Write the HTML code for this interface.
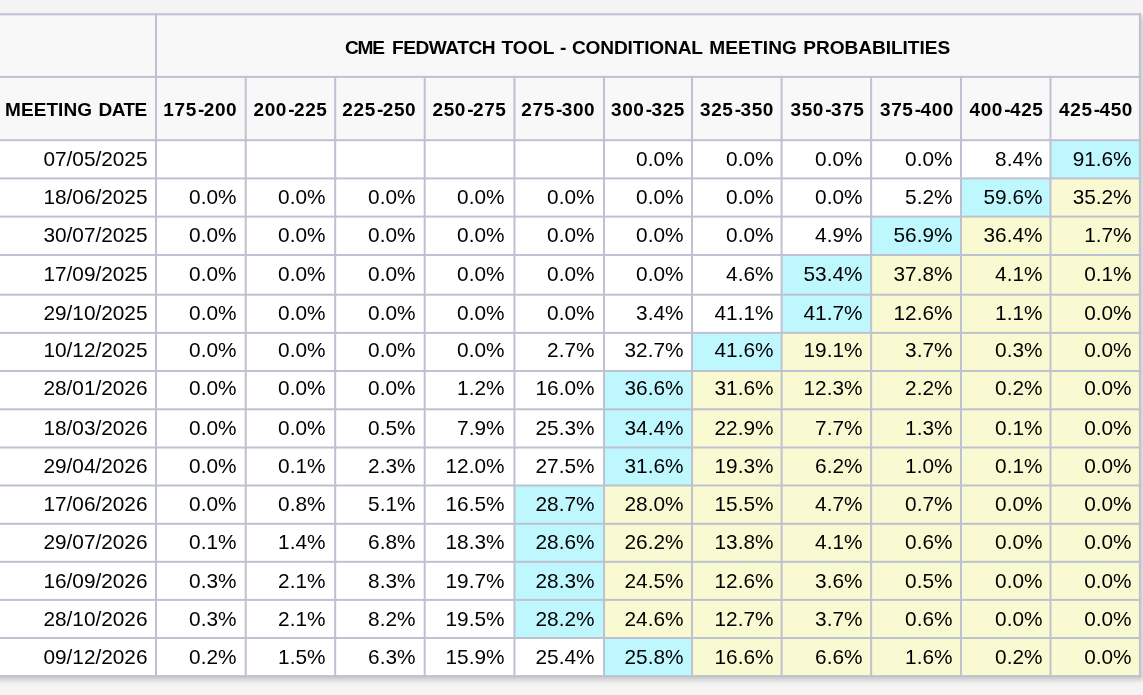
<!DOCTYPE html>
<html lang="en"><head><meta charset="utf-8"><title>CME FedWatch Tool - Conditional Meeting Probabilities</title>
<style>
html,body{margin:0;padding:0;}
body{width:1143px;height:695px;overflow:hidden;background:#f4f4f4;font-family:"Liberation Sans",Arial,sans-serif;position:relative;}
table{position:absolute;left:-41px;top:13px;border-collapse:collapse;table-layout:fixed;width:1180px;background:transparent;z-index:1;}
svg.grid{position:absolute;left:0;top:0;z-index:0;}
.shadow{position:absolute;left:-41px;top:13px;width:1182px;height:664px;box-shadow:2px 3px 5px rgba(0,0,0,0.19);}
td,th{border:2px solid transparent;padding:0 7px 0 0;box-sizing:border-box;text-align:right;font-size:20.8px;font-weight:normal;color:#000;white-space:nowrap;overflow:hidden;line-height:1;}
td span, th span{position:relative;display:inline-block;}
td span{top:0px;}
th{font-weight:bold;font-size:19.0px;letter-spacing:0.6px;text-align:center;padding:0;}
th span{top:0.75px;transform:scaleY(0.95);}
th i{font-style:normal;position:relative;left:1.2px;}
th.t{font-size:19.1px;letter-spacing:0px;}
th span.w{position:absolute;display:block;}
th.t span.w{transform:scaleY(0.945);}
th.m{text-align:right;padding-right:7px;letter-spacing:0.13px;font-size:19.0px;}
th.m span.w{transform:scaleY(0.95);}
td.p0{padding-right:7.5px;}
td.p1{padding-right:8.5px;}
td.p2{padding-right:8.5px;}
td.p3{padding-right:8.5px;}
td.p4{padding-right:8.5px;}
td.p5{padding-right:8.5px;}
td.p6{padding-right:7.5px;}
td.p7{padding-right:7.5px;}
td.p8{padding-right:7.5px;}
td.p9{padding-right:7.5px;}
td.p10{padding-right:6.5px;}
td.p11{padding-right:7.5px;}
tr.r2 span{top:-1px;}
tr.r3 span{top:-1px;}
tr.r4 span{top:-1px;}
tr.r5 span{top:-2px;}
tr.r6 span{top:-2px;}
tr.r10 span{top:-1px;}
th.h0 span{left:-0.7px;}
th.h2 span{left:-0.7px;}
th.h4 span{left:-0.7px;}
th.h7 span{left:1px;}
th.h8 span{left:1px;}
th.h9 span{left:1px;}
th.h10 span{left:1px;}


</style></head><body>
<div class="shadow"></div>
<svg class="grid" width="1143" height="695" viewBox="0 0 1143 695">
<rect x="-10.00" y="14.30" width="1149.90" height="125.90" fill="#f8f8f8"/>
<rect x="-10.00" y="140.20" width="1149.90" height="535.90" fill="#ffffff"/>
<rect x="1050.50" y="140.20" width="89.40" height="38.20" fill="#bff7ff"/>
<rect x="961.00" y="178.40" width="89.50" height="38.20" fill="#bff7ff"/>
<rect x="1050.50" y="178.40" width="89.40" height="38.20" fill="#fafad2"/>
<rect x="871.15" y="216.60" width="89.85" height="38.40" fill="#bff7ff"/>
<rect x="961.00" y="216.60" width="178.90" height="38.40" fill="#fafad2"/>
<rect x="781.60" y="255.00" width="89.55" height="39.70" fill="#bff7ff"/>
<rect x="871.15" y="255.00" width="268.75" height="39.70" fill="#fafad2"/>
<rect x="781.60" y="294.70" width="89.55" height="38.20" fill="#bff7ff"/>
<rect x="871.15" y="294.70" width="268.75" height="38.20" fill="#fafad2"/>
<rect x="692.05" y="332.90" width="89.55" height="38.10" fill="#bff7ff"/>
<rect x="781.60" y="332.90" width="358.30" height="38.10" fill="#fafad2"/>
<rect x="604.05" y="371.00" width="88.00" height="38.30" fill="#bff7ff"/>
<rect x="692.05" y="371.00" width="447.85" height="38.30" fill="#fafad2"/>
<rect x="604.05" y="409.30" width="88.00" height="38.20" fill="#bff7ff"/>
<rect x="692.05" y="409.30" width="447.85" height="38.20" fill="#fafad2"/>
<rect x="604.05" y="447.50" width="88.00" height="38.00" fill="#bff7ff"/>
<rect x="692.05" y="447.50" width="447.85" height="38.00" fill="#fafad2"/>
<rect x="514.45" y="485.50" width="89.60" height="38.30" fill="#bff7ff"/>
<rect x="604.05" y="485.50" width="535.85" height="38.30" fill="#fafad2"/>
<rect x="514.45" y="523.80" width="89.60" height="38.00" fill="#bff7ff"/>
<rect x="604.05" y="523.80" width="535.85" height="38.00" fill="#fafad2"/>
<rect x="514.45" y="561.80" width="89.60" height="38.10" fill="#bff7ff"/>
<rect x="604.05" y="561.80" width="535.85" height="38.10" fill="#fafad2"/>
<rect x="514.45" y="599.90" width="89.60" height="38.10" fill="#bff7ff"/>
<rect x="604.05" y="599.90" width="535.85" height="38.10" fill="#fafad2"/>
<rect x="604.05" y="638.00" width="88.00" height="38.10" fill="#bff7ff"/>
<rect x="692.05" y="638.00" width="447.85" height="38.10" fill="#fafad2"/>
<rect x="-10.00" y="13.30" width="1150.90" height="2.00" fill="#bec1cf"/>
<rect x="-10.00" y="75.90" width="1150.90" height="2.00" fill="#bec1cf"/>
<rect x="-10.00" y="139.20" width="1150.90" height="2.00" fill="#bec1cf"/>
<rect x="-10.00" y="177.40" width="1150.90" height="2.00" fill="#bec1cf"/>
<rect x="-10.00" y="215.60" width="1150.90" height="2.00" fill="#bec1cf"/>
<rect x="-10.00" y="254.00" width="1150.90" height="2.00" fill="#bec1cf"/>
<rect x="-10.00" y="293.70" width="1150.90" height="2.00" fill="#bec1cf"/>
<rect x="-10.00" y="331.90" width="1150.90" height="2.00" fill="#bec1cf"/>
<rect x="-10.00" y="370.00" width="1150.90" height="2.00" fill="#bec1cf"/>
<rect x="-10.00" y="408.30" width="1150.90" height="2.00" fill="#bec1cf"/>
<rect x="-10.00" y="446.50" width="1150.90" height="2.00" fill="#bec1cf"/>
<rect x="-10.00" y="484.50" width="1150.90" height="2.00" fill="#bec1cf"/>
<rect x="-10.00" y="522.80" width="1150.90" height="2.00" fill="#bec1cf"/>
<rect x="-10.00" y="560.80" width="1150.90" height="2.00" fill="#bec1cf"/>
<rect x="-10.00" y="598.90" width="1150.90" height="2.00" fill="#bec1cf"/>
<rect x="-10.00" y="637.00" width="1150.90" height="2.00" fill="#bec1cf"/>
<rect x="-10.00" y="675.10" width="1150.90" height="2.00" fill="#bec1cf"/>
<rect x="155.00" y="13.30" width="2.00" height="663.80" fill="#bec1cf"/>
<rect x="244.70" y="75.90" width="2.00" height="601.20" fill="#bec1cf"/>
<rect x="334.20" y="75.90" width="2.00" height="601.20" fill="#bec1cf"/>
<rect x="423.70" y="75.90" width="2.00" height="601.20" fill="#bec1cf"/>
<rect x="513.45" y="75.90" width="2.00" height="601.20" fill="#bec1cf"/>
<rect x="603.05" y="75.90" width="2.00" height="601.20" fill="#bec1cf"/>
<rect x="691.05" y="75.90" width="2.00" height="601.20" fill="#bec1cf"/>
<rect x="780.60" y="75.90" width="2.00" height="601.20" fill="#bec1cf"/>
<rect x="870.15" y="75.90" width="2.00" height="601.20" fill="#bec1cf"/>
<rect x="960.00" y="75.90" width="2.00" height="601.20" fill="#bec1cf"/>
<rect x="1049.50" y="75.90" width="2.00" height="601.20" fill="#bec1cf"/>
<rect x="1138.90" y="13.30" width="2.00" height="663.80" fill="#bec1cf"/>
</svg>
<table>
<colgroup>
<col style="width:196px">
<col style="width:90px">
<col style="width:89px">
<col style="width:90px">
<col style="width:89px">
<col style="width:90px">
<col style="width:88px">
<col style="width:90px">
<col style="width:89px">
<col style="width:90px">
<col style="width:89px">
<col style="width:90px">
</colgroup>
<thead><tr style="height:63px"><th></th><th class="t" colspan="11"><span class="w" style="left:384.89px;top:23.84px;letter-spacing:-1.194px">CME</span> <span class="w" style="left:432.10px;top:23.84px;letter-spacing:-0.47px">FEDWATCH</span> <span class="w" style="left:541.40px;top:23.84px;letter-spacing:0.074px">TOOL</span> <span class="w" style="left:600.05px;top:23.84px;letter-spacing:0.0px">-</span> <span class="w" style="left:611.99px;top:23.84px;letter-spacing:-0.162px">CONDITIONAL</span> <span class="w" style="left:749.20px;top:23.84px;letter-spacing:0.133px">MEETING</span> <span class="w" style="left:843.30px;top:23.84px;letter-spacing:-0.05px">PROBABILITIES</span></th></tr>
<tr style="height:63px"><th class="m"><span class="w" style="left:45.10px;top:85.75px;letter-spacing:0.06px">MEETING</span> <span class="w" style="left:138.60px;top:85.75px;letter-spacing:-0.6px">DATE</span></th><th class="h0"><span>175<i>-</i>200</span></th><th class="h1"><span>200<i>-</i>225</span></th><th class="h2"><span>225<i>-</i>250</span></th><th class="h3"><span>250<i>-</i>275</span></th><th class="h4"><span>275<i>-</i>300</span></th><th class="h5"><span>300<i>-</i>325</span></th><th class="h6"><span>325<i>-</i>350</span></th><th class="h7"><span>350<i>-</i>375</span></th><th class="h8"><span>375<i>-</i>400</span></th><th class="h9"><span>400<i>-</i>425</span></th><th class="h10"><span>425<i>-</i>450</span></th></tr></thead><tbody>
<tr class="r0" style="height:38px"><td class="p0"><span>07/05/2025</span></td><td class="p1"><span></span></td><td class="p2"><span></span></td><td class="p3"><span></span></td><td class="p4"><span></span></td><td class="p5"><span></span></td><td class="p6"><span>0.0%</span></td><td class="p7"><span>0.0%</span></td><td class="p8"><span>0.0%</span></td><td class="p9"><span>0.0%</span></td><td class="p10"><span>8.4%</span></td><td class="p11 c"><span>91.6%</span></td></tr>
<tr class="r1" style="height:39px"><td class="p0"><span>18/06/2025</span></td><td class="p1"><span>0.0%</span></td><td class="p2"><span>0.0%</span></td><td class="p3"><span>0.0%</span></td><td class="p4"><span>0.0%</span></td><td class="p5"><span>0.0%</span></td><td class="p6"><span>0.0%</span></td><td class="p7"><span>0.0%</span></td><td class="p8"><span>0.0%</span></td><td class="p9"><span>5.2%</span></td><td class="p10 c"><span>59.6%</span></td><td class="p11 y"><span>35.2%</span></td></tr>
<tr class="r2" style="height:38px"><td class="p0"><span>30/07/2025</span></td><td class="p1"><span>0.0%</span></td><td class="p2"><span>0.0%</span></td><td class="p3"><span>0.0%</span></td><td class="p4"><span>0.0%</span></td><td class="p5"><span>0.0%</span></td><td class="p6"><span>0.0%</span></td><td class="p7"><span>0.0%</span></td><td class="p8"><span>4.9%</span></td><td class="p9 c"><span>56.9%</span></td><td class="p10 y"><span>36.4%</span></td><td class="p11 y"><span>1.7%</span></td></tr>
<tr class="r3" style="height:40px"><td class="p0"><span>17/09/2025</span></td><td class="p1"><span>0.0%</span></td><td class="p2"><span>0.0%</span></td><td class="p3"><span>0.0%</span></td><td class="p4"><span>0.0%</span></td><td class="p5"><span>0.0%</span></td><td class="p6"><span>0.0%</span></td><td class="p7"><span>4.6%</span></td><td class="p8 c"><span>53.4%</span></td><td class="p9 y"><span>37.8%</span></td><td class="p10 y"><span>4.1%</span></td><td class="p11 y"><span>0.1%</span></td></tr>
<tr class="r4" style="height:38px"><td class="p0"><span>29/10/2025</span></td><td class="p1"><span>0.0%</span></td><td class="p2"><span>0.0%</span></td><td class="p3"><span>0.0%</span></td><td class="p4"><span>0.0%</span></td><td class="p5"><span>0.0%</span></td><td class="p6"><span>3.4%</span></td><td class="p7"><span>41.1%</span></td><td class="p8 c"><span>41.7%</span></td><td class="p9 y"><span>12.6%</span></td><td class="p10 y"><span>1.1%</span></td><td class="p11 y"><span>0.0%</span></td></tr>
<tr class="r5" style="height:38px"><td class="p0"><span>10/12/2025</span></td><td class="p1"><span>0.0%</span></td><td class="p2"><span>0.0%</span></td><td class="p3"><span>0.0%</span></td><td class="p4"><span>0.0%</span></td><td class="p5"><span>2.7%</span></td><td class="p6"><span>32.7%</span></td><td class="p7 c"><span>41.6%</span></td><td class="p8 y"><span>19.1%</span></td><td class="p9 y"><span>3.7%</span></td><td class="p10 y"><span>0.3%</span></td><td class="p11 y"><span>0.0%</span></td></tr>
<tr class="r6" style="height:38px"><td class="p0"><span>28/01/2026</span></td><td class="p1"><span>0.0%</span></td><td class="p2"><span>0.0%</span></td><td class="p3"><span>0.0%</span></td><td class="p4"><span>1.2%</span></td><td class="p5"><span>16.0%</span></td><td class="p6 c"><span>36.6%</span></td><td class="p7 y"><span>31.6%</span></td><td class="p8 y"><span>12.3%</span></td><td class="p9 y"><span>2.2%</span></td><td class="p10 y"><span>0.2%</span></td><td class="p11 y"><span>0.0%</span></td></tr>
<tr class="r7" style="height:38px"><td class="p0"><span>18/03/2026</span></td><td class="p1"><span>0.0%</span></td><td class="p2"><span>0.0%</span></td><td class="p3"><span>0.5%</span></td><td class="p4"><span>7.9%</span></td><td class="p5"><span>25.3%</span></td><td class="p6 c"><span>34.4%</span></td><td class="p7 y"><span>22.9%</span></td><td class="p8 y"><span>7.7%</span></td><td class="p9 y"><span>1.3%</span></td><td class="p10 y"><span>0.1%</span></td><td class="p11 y"><span>0.0%</span></td></tr>
<tr class="r8" style="height:38px"><td class="p0"><span>29/04/2026</span></td><td class="p1"><span>0.0%</span></td><td class="p2"><span>0.1%</span></td><td class="p3"><span>2.3%</span></td><td class="p4"><span>12.0%</span></td><td class="p5"><span>27.5%</span></td><td class="p6 c"><span>31.6%</span></td><td class="p7 y"><span>19.3%</span></td><td class="p8 y"><span>6.2%</span></td><td class="p9 y"><span>1.0%</span></td><td class="p10 y"><span>0.1%</span></td><td class="p11 y"><span>0.0%</span></td></tr>
<tr class="r9" style="height:39px"><td class="p0"><span>17/06/2026</span></td><td class="p1"><span>0.0%</span></td><td class="p2"><span>0.8%</span></td><td class="p3"><span>5.1%</span></td><td class="p4"><span>16.5%</span></td><td class="p5 c"><span>28.7%</span></td><td class="p6 y"><span>28.0%</span></td><td class="p7 y"><span>15.5%</span></td><td class="p8 y"><span>4.7%</span></td><td class="p9 y"><span>0.7%</span></td><td class="p10 y"><span>0.0%</span></td><td class="p11 y"><span>0.0%</span></td></tr>
<tr class="r10" style="height:38px"><td class="p0"><span>29/07/2026</span></td><td class="p1"><span>0.1%</span></td><td class="p2"><span>1.4%</span></td><td class="p3"><span>6.8%</span></td><td class="p4"><span>18.3%</span></td><td class="p5 c"><span>28.6%</span></td><td class="p6 y"><span>26.2%</span></td><td class="p7 y"><span>13.8%</span></td><td class="p8 y"><span>4.1%</span></td><td class="p9 y"><span>0.6%</span></td><td class="p10 y"><span>0.0%</span></td><td class="p11 y"><span>0.0%</span></td></tr>
<tr class="r11" style="height:38px"><td class="p0"><span>16/09/2026</span></td><td class="p1"><span>0.3%</span></td><td class="p2"><span>2.1%</span></td><td class="p3"><span>8.3%</span></td><td class="p4"><span>19.7%</span></td><td class="p5 c"><span>28.3%</span></td><td class="p6 y"><span>24.5%</span></td><td class="p7 y"><span>12.6%</span></td><td class="p8 y"><span>3.6%</span></td><td class="p9 y"><span>0.5%</span></td><td class="p10 y"><span>0.0%</span></td><td class="p11 y"><span>0.0%</span></td></tr>
<tr class="r12" style="height:38px"><td class="p0"><span>28/10/2026</span></td><td class="p1"><span>0.3%</span></td><td class="p2"><span>2.1%</span></td><td class="p3"><span>8.2%</span></td><td class="p4"><span>19.5%</span></td><td class="p5 c"><span>28.2%</span></td><td class="p6 y"><span>24.6%</span></td><td class="p7 y"><span>12.7%</span></td><td class="p8 y"><span>3.7%</span></td><td class="p9 y"><span>0.6%</span></td><td class="p10 y"><span>0.0%</span></td><td class="p11 y"><span>0.0%</span></td></tr>
<tr class="r13" style="height:38px"><td class="p0"><span>09/12/2026</span></td><td class="p1"><span>0.2%</span></td><td class="p2"><span>1.5%</span></td><td class="p3"><span>6.3%</span></td><td class="p4"><span>15.9%</span></td><td class="p5"><span>25.4%</span></td><td class="p6 c"><span>25.8%</span></td><td class="p7 y"><span>16.6%</span></td><td class="p8 y"><span>6.6%</span></td><td class="p9 y"><span>1.6%</span></td><td class="p10 y"><span>0.2%</span></td><td class="p11 y"><span>0.0%</span></td></tr>
</tbody></table></body></html>
